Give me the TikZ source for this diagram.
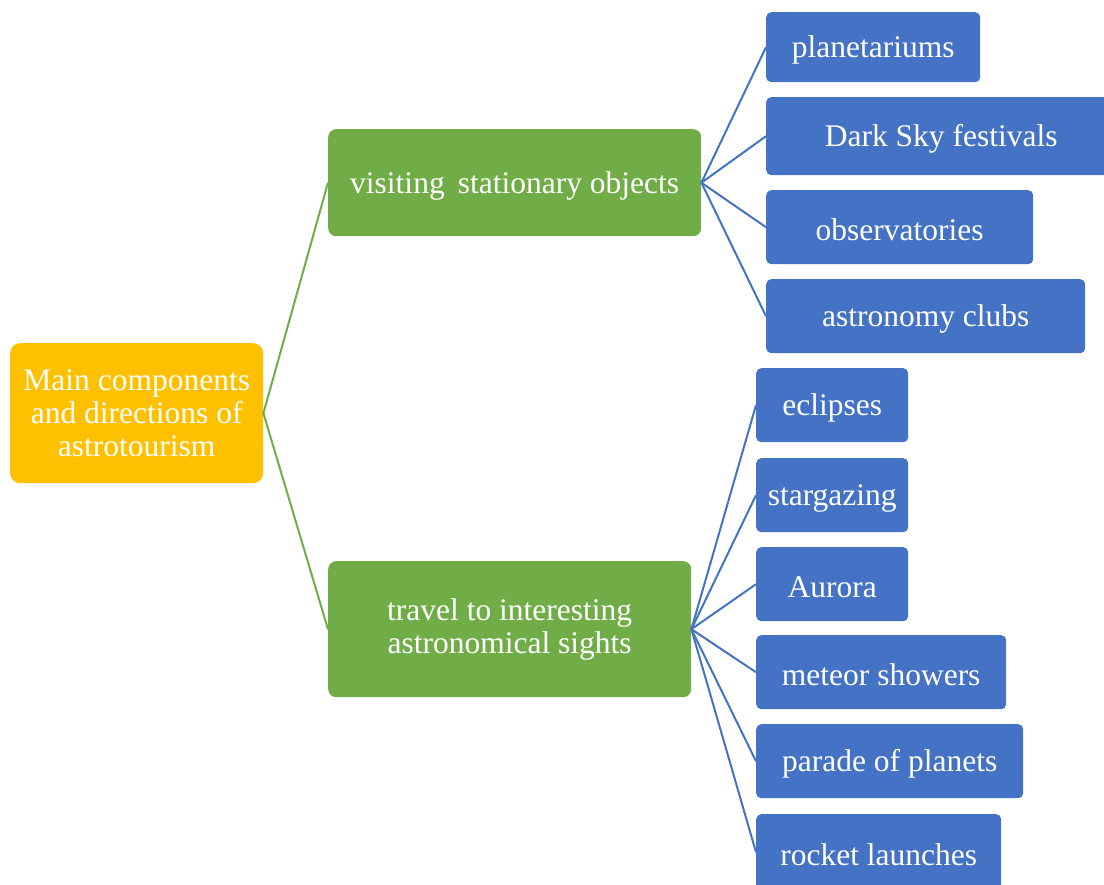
\documentclass[tikz,border=0pt]{standalone}
\usepackage{fontspec}
\setmainfont{Liberation Serif}
\definecolor{cyel}{HTML}{FFC000}
\definecolor{cgrn}{HTML}{70AD47}
\definecolor{cblu}{HTML}{4472C4}
\newcommand\lowtxt[1]{\raisebox{0pt}[\dimexpr\height+6pt\relax][\depth]{#1}}
\begin{document}
\begin{tikzpicture}[x=1pt,y=-1pt,
  base/.style={anchor=north west, inner sep=0pt, text=white, align=center,
    font=\fontsize{31.5}{33}\selectfont},
  rootbox/.style={base, fill=cyel, rounded corners=10pt},
  grnbox/.style={base, fill=cgrn, rounded corners=8pt},
  blubox/.style={base, fill=cblu, rounded corners=5pt},
  glink/.style={draw=cgrn, line width=2pt},
  blink/.style={draw=cblu, line width=2pt}]
\useasboundingbox (0,0) rectangle (1104,885);
\clip (0,0) rectangle (1104,885);
\node[rootbox, minimum width=253pt, minimum height=140pt] (root) at (10,343)
  {Main components\\and directions of\\astrotourism};
\node[grnbox, minimum width=373pt, minimum height=107pt] (g1) at (328,129)
  {\lowtxt{visiting\, stationary objects}};
\node[grnbox, minimum width=363pt, minimum height=136pt] (g2) at (328,561)
  {travel to interesting\\astronomical sights};
\node[blubox, minimum width=214pt, minimum height=70pt] (b1) at (766,12) {\lowtxt{planetariums}};
\node[blubox, minimum width=350pt, minimum height=78pt] (b2) at (766,97) {\lowtxt{Dark Sky festivals}};
\node[blubox, minimum width=267pt, minimum height=74pt] (b3) at (766,190) {\lowtxt{observatories}};
\node[blubox, minimum width=319pt, minimum height=74pt] (b4) at (766,279) {\lowtxt{astronomy clubs}};
\node[blubox, minimum width=152pt, minimum height=74pt] (c1) at (756,368) {\lowtxt{eclipses}};
\node[blubox, minimum width=152pt, minimum height=74pt] (c2) at (756,458) {\lowtxt{stargazing}};
\node[blubox, minimum width=152pt, minimum height=74pt] (c3) at (756,547) {\lowtxt{Aurora}};
\node[blubox, minimum width=250pt, minimum height=74pt] (c4) at (756,635) {\lowtxt{meteor showers}};
\node[blubox, minimum width=267pt, minimum height=74pt] (c5) at (756,724) {\lowtxt{parade of planets}};
\node[blubox, minimum width=245pt, minimum height=76pt] (c6) at (756,814) {\lowtxt{rocket launches}};
\draw[glink] (g1.west) -- (root.east) -- (g2.west);
\foreach \b in {b1,b2,b3,b4}{\draw[blink] (g1.east) -- (\b.west);}
\foreach \c in {c1,c2,c3,c4,c5,c6}{\draw[blink] (g2.east) -- (\c.west);}
\end{tikzpicture}
\end{document}
